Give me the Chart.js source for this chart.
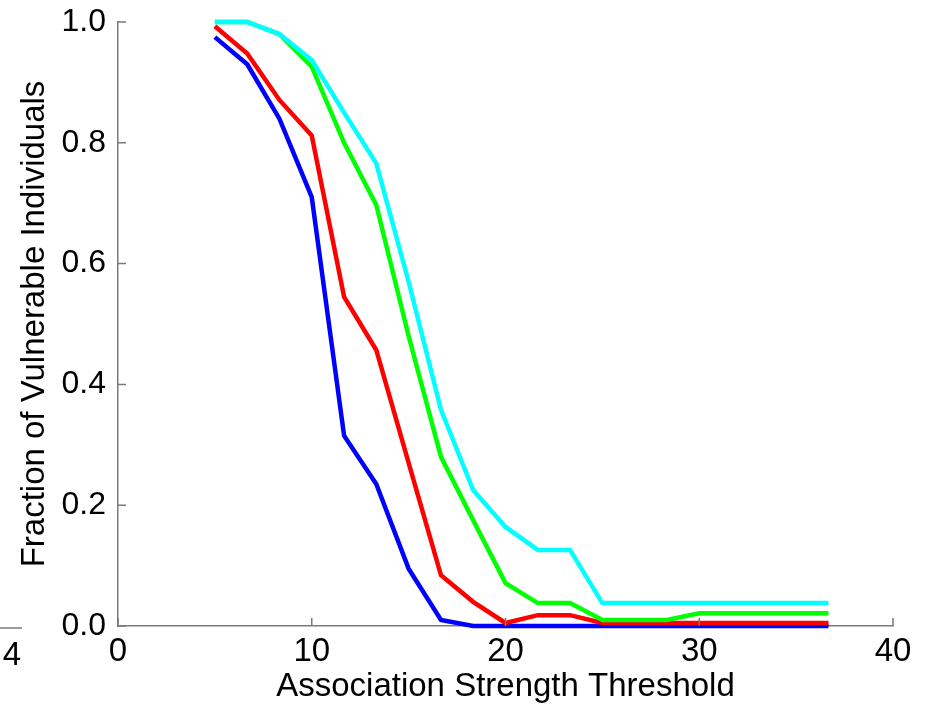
<!DOCTYPE html>
<html>
<head>
<meta charset="utf-8">
<script src="https://cdn.jsdelivr.net/npm/chart.js@4.4.1/dist/chart.umd.min.js"></script>
<style>
  html, body { margin: 0; padding: 0; background: #fff; }
  #wrap { width: 926px; height: 707px; }
</style>
</head>
<body>
<div id="wrap"><canvas id="vuln" width="926" height="707"></canvas></div>
<script>
// association strength thresholds (x)
var thresholds = [5, 6.67, 8.33, 10, 11.67, 13.33, 15, 16.67, 18.33, 20,
                  21.67, 23.33, 25, 26.67, 28.33, 30, 31.67, 33.33, 35, 36.67];

// fraction of vulnerable individuals, one array per curve
var blueVals  = [0.975, 0.93, 0.84, 0.71, 0.315, 0.235, 0.095, 0.01, 0, 0,
                 0, 0, 0, 0, 0, 0, 0, 0, 0, 0];
var redVals   = [0.993, 0.948, 0.871, 0.812, 0.545, 0.457, 0.27, 0.084, 0.04, 0.005,
                 0.018, 0.018, 0.005, 0.005, 0.005, 0.005, 0.005, 0.005, 0.005, 0.005];
var greenVals = [1.0, 1.0, 0.98, 0.926, 0.80, 0.697, 0.48, 0.28, 0.175, 0.071,
                 0.038, 0.038, 0.01, 0.01, 0.01, 0.021, 0.021, 0.021, 0.021, 0.021];
var cyanVals  = [1.0, 1.0, 0.98, 0.937, 0.85, 0.766, 0.57, 0.358, 0.225, 0.164,
                 0.126, 0.126, 0.038, 0.038, 0.038, 0.038, 0.038, 0.038, 0.038, 0.038];

var xTicks = [0, 10, 20, 30, 40];
var yTicks = [0, 0.2, 0.4, 0.6, 0.8, 1.0];

var axisColor = '#7a7a7a';
var fontFamily = '"Liberation Sans", Arial, Helvetica, sans-serif';
var fontSize = 33;

function pts(vals) {
    var out = [];
    for (var i in vals) {
        out.push({x: thresholds[i], y: vals[i]});
    }
    return out;
}

function line(vals, color) {
    return {
        data: pts(vals),
        borderColor: color,
        backgroundColor: color,
        borderWidth: 4.5,
        pointRadius: 0,
        tension: 0,
        fill: false,
        clip: false
    };
}

// inward tick marks, like the original figure
var innerTicks = {
    id: 'innerTicks',
    afterDatasetsDraw: function(chart) {
        var c = chart.ctx, xs = chart.scales.x, ys = chart.scales.y;
        var area = chart.chartArea;
        c.save();
        c.strokeStyle = axisColor;
        c.lineWidth = 1.5;
        c.beginPath();
        xTicks.forEach(function(v) {
            var px = xs.getPixelForValue(v);
            c.moveTo(px, area.bottom);
            c.lineTo(px, area.bottom - 8);
        });
        yTicks.forEach(function(v) {
            var py = ys.getPixelForValue(v);
            c.moveTo(area.left, py);
            c.lineTo(area.left + 8, py);
        });
        c.stroke();

        // remnant of neighbouring panel at the left edge
        c.beginPath();
        c.moveTo(0, area.bottom + 2);
        c.lineTo(22, area.bottom + 2);
        c.stroke();
        c.fillStyle = '#000';
        c.font = fontSize + 'px ' + fontFamily;
        c.textAlign = 'center';
        c.textBaseline = 'middle';
        c.fillText('4', 12, 656);
        c.restore();
    }
};

var ctx = document.getElementById('vuln');

var vulnChart = new Chart(ctx, {
    type: 'line',
    data: {
        datasets: [
            line(cyanVals, '#00ffff'),
            line(greenVals, '#00ff00'),
            line(redVals, '#ff0000'),
            line(blueVals, '#0000ff')
        ]
    },
    options: {
        responsive: false,
        animation: false,
        layout: { padding: { top: 22, right: 33, left: 0, bottom: 0 } },
        plugins: { legend: { display: false }, tooltip: { enabled: false } },
        scales: {
            x: {
                type: 'linear',
                min: 0,
                max: 40,
                afterBuildTicks: function(s) {
                    s.ticks = xTicks.map(function(v) { return {value: v}; });
                },
                afterFit: function(s) {
                    s.height = 81;
                    s.paddingLeft = 0;
                    s.paddingRight = 0;
                },
                grid: { display: true, drawOnChartArea: false, drawTicks: false },
                border: { color: axisColor, width: 1.5 },
                ticks: {
                    color: '#000',
                    padding: 8,
                    maxRotation: 0,
                    font: { family: fontFamily, size: fontSize, lineHeight: 1.1 }
                },
                title: {
                    display: true,
                    text: 'Association Strength Threshold',
                    color: '#000',
                    padding: { top: 0, bottom: 2 },
                    font: { family: fontFamily, size: fontSize, lineHeight: 1.1 }
                }
            },
            y: {
                min: 0,
                max: 1,
                afterBuildTicks: function(s) {
                    s.ticks = yTicks.map(function(v) { return {value: v}; });
                },
                afterFit: function(s) {
                    s.width = 118;
                    s.paddingTop = 0;
                    s.paddingBottom = 0;
                },
                grid: { display: true, drawOnChartArea: false, drawTicks: false },
                border: { color: axisColor, width: 1.5 },
                ticks: {
                    color: '#000',
                    padding: 12,
                    font: { family: fontFamily, size: 32, lineHeight: 1.1 },
                    callback: function(v) { return Number(v).toFixed(1); }
                },
                title: {
                    display: true,
                    text: 'Fraction of Vulnerable Individuals',
                    color: '#000',
                    padding: { top: 17, bottom: 0 },
                    font: { family: fontFamily, size: fontSize, lineHeight: 1.1 }
                }
            }
        }
    },
    plugins: [innerTicks]
});
</script>
</body>
</html>
